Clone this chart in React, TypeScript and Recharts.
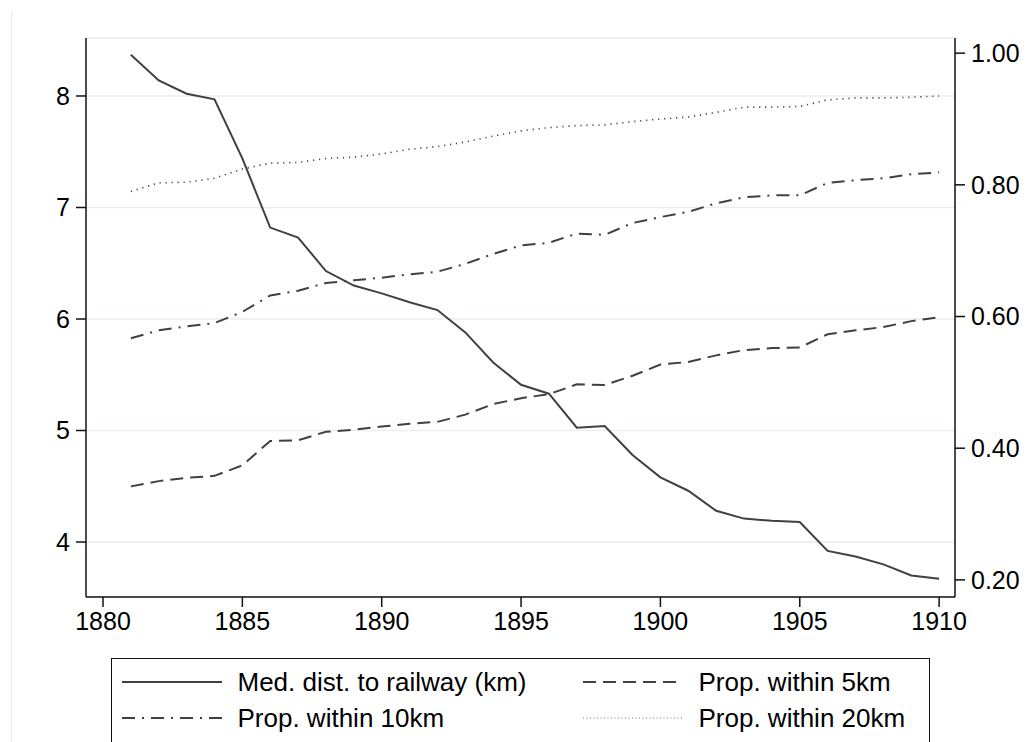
import React from 'react';
import { LineChart, Line, XAxis, YAxis, CartesianGrid } from 'recharts';

const years = [1881,1882,1883,1884,1885,1886,1887,1888,1889,1890,1891,1892,1893,1894,1895,1896,1897,1898,1899,1900,1901,1902,1903,1904,1905,1906,1907,1908,1909,1910];
const medDist = [8.37,8.14,8.02,7.97,7.44,6.82,6.73,6.43,6.30,6.23,6.15,6.08,5.88,5.61,5.41,5.33,5.025,5.04,4.78,4.58,4.46,4.28,4.21,4.19,4.18,3.92,3.87,3.80,3.70,3.67];
const prop5 = [0.342,0.350,0.355,0.358,0.374,0.411,0.412,0.425,0.428,0.433,0.437,0.440,0.451,0.467,0.476,0.482,0.497,0.496,0.510,0.527,0.531,0.541,0.549,0.552,0.553,0.573,0.579,0.584,0.593,0.599];
const prop10 = [0.567,0.579,0.585,0.590,0.607,0.632,0.639,0.651,0.655,0.659,0.664,0.668,0.680,0.695,0.708,0.712,0.726,0.724,0.742,0.751,0.759,0.772,0.781,0.784,0.784,0.803,0.807,0.810,0.816,0.819];
const prop20 = [0.790,0.803,0.804,0.810,0.824,0.833,0.834,0.840,0.842,0.847,0.854,0.858,0.865,0.874,0.882,0.887,0.890,0.891,0.896,0.900,0.903,0.910,0.918,0.918,0.919,0.929,0.932,0.932,0.933,0.935];

const xTicks = [1880,1885,1890,1895,1900,1905,1910];
const leftTicks = [4,5,6,7,8];
const rightTicks = [0.2,0.4,0.6,0.8,1.0];
const seriesLabels = ['Med. dist. to railway (km)', 'Prop. within 5km', 'Prop. within 10km', 'Prop. within 20km'];

const data = years.map((y, i) => ({ year: y, med: medDist[i], p5: prop5[i], p10: prop10[i], p20: prop20[i] }));

const FONT = '"Liberation Sans", Arial, Helvetica, sans-serif';
const LINE = '#404040';
const DASH5 = '13 7';
const DASH10 = '13 7 2 7';
const DOT20 = '1.2 4.8';

const tickStyle = { fontSize: 25, fill: '#000', fontFamily: FONT };

function Sample({ dash, width, color }: { dash?: string; width: number; color: string }) {
  return (
    <svg width={100} height={10} style={{ display: 'block' }}>
      <line x1={0} y1={5} x2={100} y2={5} stroke={color} strokeWidth={width} strokeDasharray={dash} />
    </svg>
  );
}

export default function App() {
  const legendItems = [
    { label: seriesLabels[0], dash: undefined, w: 2, c: LINE, left: 9.5, top: 7.5 },
    { label: seriesLabels[1], dash: DASH5, w: 2, c: LINE, left: 470.5, top: 7.5 },
    { label: seriesLabels[2], dash: DASH10, w: 2, c: LINE, left: 9.5, top: 43.5 },
    { label: seriesLabels[3], dash: '1 2.5', w: 1, c: '#777', left: 470.5, top: 43.5 },
  ];
  return (
    <div style={{ position: 'absolute', left: 0, top: 0, width: 1029, height: 742, background: '#fff', overflow: 'hidden', fontFamily: FONT }}>
      <div style={{ position: 'absolute', left: 11, top: 11, width: 1, height: 731, background: '#ececec' }} />
      <LineChart width={1029} height={742} data={data} margin={{ top: 38, right: 0, bottom: 105, left: 0 }}>
        <CartesianGrid yAxisId="left" vertical={false} horizontal={true} stroke="#e7eff1" strokeWidth={1.5} />
        <XAxis
          dataKey="year"
          type="number"
          domain={[1879.39, 1910.57]}
          ticks={xTicks}
          allowDataOverflow
          height={40}
          tickSize={10}
          tickMargin={5}
          stroke="#111"
          strokeWidth={1.5}
          tick={tickStyle}
          tickLine={{ stroke: '#111', strokeWidth: 1.5 }}
        />
        <YAxis
          yAxisId="left"
          orientation="left"
          domain={[3.507, 8.52]}
          ticks={leftTicks}
          allowDataOverflow
          width={86}
          tickSize={10}
          tickMargin={6}
          stroke="#111"
          strokeWidth={1.5}
          tick={tickStyle}
          tickLine={{ stroke: '#111', strokeWidth: 1.5 }}
        />
        <YAxis
          yAxisId="right"
          orientation="right"
          domain={[0.174, 1.023]}
          ticks={rightTicks}
          allowDataOverflow
          width={74}
          tickSize={10}
          tickMargin={6}
          stroke="#111"
          strokeWidth={1.5}
          tick={tickStyle}
          tickFormatter={(v: number) => v.toFixed(2)}
          tickLine={{ stroke: '#111', strokeWidth: 1.5 }}
        />
        <Line yAxisId="right" dataKey="p20" stroke="#444" strokeWidth={1.6} strokeDasharray={DOT20} dot={false} isAnimationActive={false} />
        <Line yAxisId="right" dataKey="p10" stroke={LINE} strokeWidth={2} strokeDasharray={DASH10} dot={false} isAnimationActive={false} />
        <Line yAxisId="right" dataKey="p5" stroke={LINE} strokeWidth={2} strokeDasharray={DASH5} dot={false} isAnimationActive={false} />
        <Line yAxisId="left" dataKey="med" stroke={LINE} strokeWidth={2} dot={false} isAnimationActive={false} />
      </LineChart>
      <div style={{ position: 'absolute', left: 111, top: 658, width: 819, height: 110, border: '1.5px solid #111', boxSizing: 'border-box' }}>
        {legendItems.map((it) => (
          <div key={it.label} style={{ position: 'absolute', left: it.left, top: it.top, height: 30, display: 'flex', alignItems: 'center' }}>
            <Sample dash={it.dash} width={it.w} color={it.c} />
            <span style={{ marginLeft: 16, fontSize: 26, color: '#000', whiteSpace: 'nowrap', lineHeight: '30px' }}>{it.label}</span>
          </div>
        ))}
      </div>
    </div>
  );
}
